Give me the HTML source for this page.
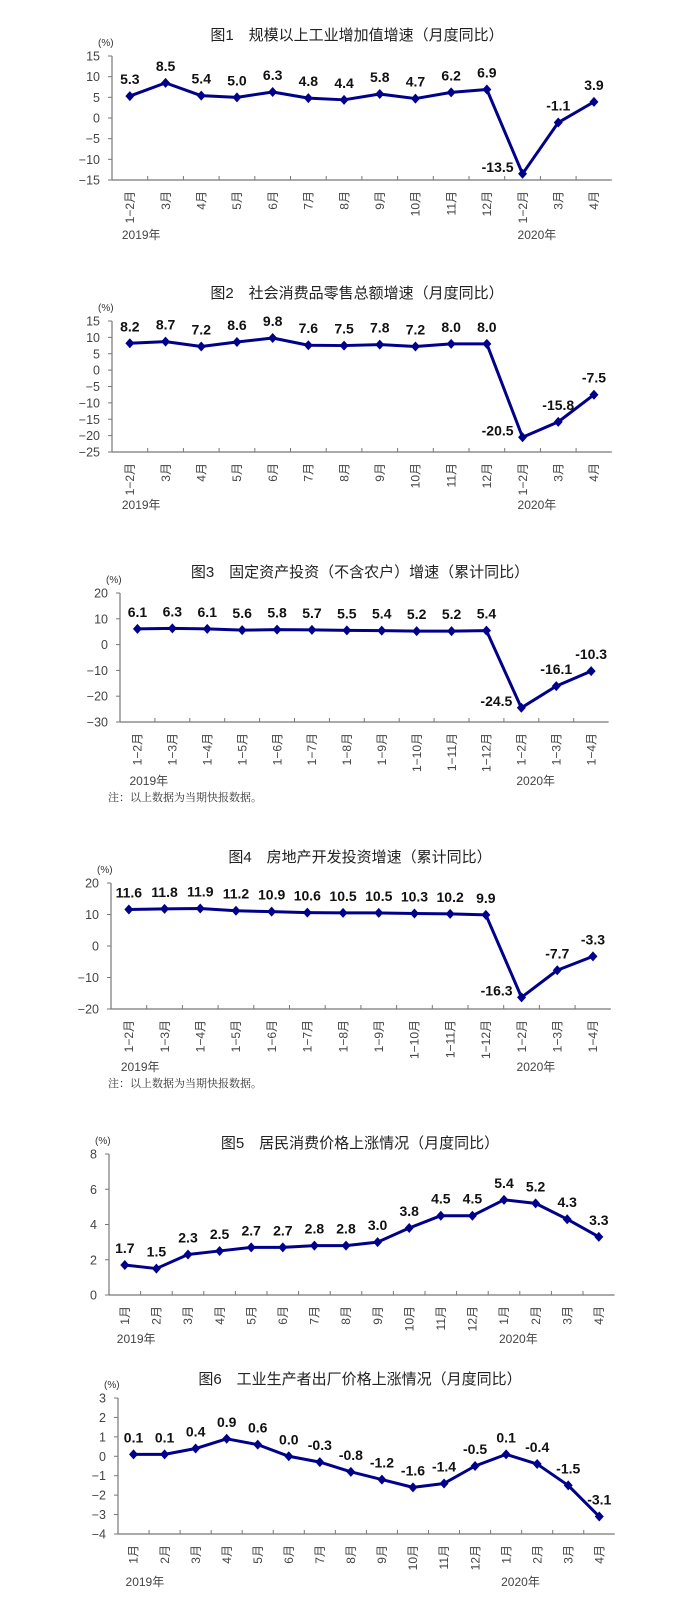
<!DOCTYPE html>
<html><head><meta charset="utf-8">
<style>
html,body{margin:0;padding:0;background:#fff;}
svg{display:block;}
</style></head>
<body>
<svg id="s" width="699" height="1609" xmlns="http://www.w3.org/2000/svg" font-family="Liberation Sans, Noto Sans CJK SC, sans-serif">
<rect width="699" height="1609" fill="#fff"/>
</svg>
<script>
var S=document.getElementById('s');
function el(t,a,txt){var e=document.createElementNS('http://www.w3.org/2000/svg',t);for(var k in a)e.setAttribute(k,a[k]);if(txt!==undefined)e.textContent=txt;S.appendChild(e);return e;}
var m1=["1-2月","3月","4月","5月","6月","7月","8月","9月","10月","11月","12月","1-2月","3月","4月"];
var m3=["1-2月","1-3月","1-4月","1-5月","1-6月","1-7月","1-8月","1-9月","1-10月","1-11月","1-12月","1-2月","1-3月","1-4月"];
var m5=["1月","2月","3月","4月","5月","6月","7月","8月","9月","10月","11月","12月","1月","2月","3月","4月"];
var C=[
{title:"图1　规模以上工业增加值增速（月度同比）",ty:40,tx:357,x0:112,band:35.7,top:56,bot:180,min:-15,max:15,step:5,lab:m1,
 v:[5.3,8.5,5.4,5.0,6.3,4.8,4.4,5.8,4.7,6.2,6.9,-13.5,-1.1,3.9],y19:239,i20:11},
{title:"图2　社会消费品零售总额增速（月度同比）",ty:298,tx:357,x0:112,band:35.7,top:321,bot:452,min:-25,max:15,step:5,lab:m1,
 v:[8.2,8.7,7.2,8.6,9.8,7.6,7.5,7.8,7.2,8.0,8.0,-20.5,-15.8,-7.5],y19:509,i20:11},
{title:"图3　固定资产投资（不含农户）增速（累计同比）",ty:577,tx:360,x0:120,band:34.9,top:593,bot:722,min:-30,max:20,step:10,lab:m3,
 v:[6.1,6.3,6.1,5.6,5.8,5.7,5.5,5.4,5.2,5.2,5.4,-24.5,-16.1,-10.3],y19:785,i20:11,note:801},
{title:"图4　房地产开发投资增速（累计同比）",ty:862,tx:360,x0:111,band:35.7,top:883,bot:1009,min:-20,max:20,step:10,lab:m3,
 v:[11.6,11.8,11.9,11.2,10.9,10.6,10.5,10.5,10.3,10.2,9.9,-16.3,-7.7,-3.3],y19:1071,i20:11,note:1087},
{title:"图5　居民消费价格上涨情况（月度同比）",ty:1148,tx:360,x0:109,band:31.6,top:1154,bot:1295,min:0,max:8,step:2,lab:m5,
 v:[1.7,1.5,2.3,2.5,2.7,2.7,2.8,2.8,3.0,3.8,4.5,4.5,5.4,5.2,4.3,3.3],y19:1343,i20:12},
{title:"图6　工业生产者出厂价格上涨情况（月度同比）",ty:1384,tx:360,x0:118,band:31.05,top:1398,bot:1534,min:-4,max:3,step:1,lab:m5,
 v:[0.1,0.1,0.4,0.9,0.6,0.0,-0.3,-0.8,-1.2,-1.6,-1.4,-0.5,0.1,-0.4,-1.5,-3.1],y19:1586,i20:12}
];
C.forEach(function(c){
 var n=c.v.length, x1=c.x0+n*c.band;
 function Y(v){return c.bot-(v-c.min)/(c.max-c.min)*(c.bot-c.top);}
 function X(i){return c.x0+(i+0.5)*c.band;}
 el('text',{x:c.tx,y:c.ty,'text-anchor':'middle','font-size':15,fill:'#222'},c.title);
 el('text',{x:c.x0-14,y:c.top-10,'font-size':10,fill:'#333'},'(%)');
 el('line',{x1:c.x0,y1:c.top,x2:c.x0,y2:c.bot,stroke:'#777','stroke-width':1.2});
 el('line',{x1:c.x0,y1:c.bot,x2:x1,y2:c.bot,stroke:'#777','stroke-width':1.2});
 for(var v=c.min;v<=c.max+1e-9;v+=c.step){
  var y=Y(v);
  el('line',{x1:c.x0-4,y1:y,x2:c.x0,y2:y,stroke:'#777','stroke-width':1});
  el('text',{x:c.x0-12,y:y+4.5,'text-anchor':'end','font-size':12.5,fill:'#444'},String(v).replace('-','−'));
 }
 for(var i=1;i<n;i++){var xx=c.x0+i*c.band;el('line',{x1:xx,y1:c.bot-4,x2:xx,y2:c.bot,stroke:'#777','stroke-width':1});}
 for(var i=0;i<n;i++){
  var xx=X(i);
  el('text',{transform:'translate('+(xx+4.2)+','+(c.bot+11)+') rotate(-90)','text-anchor':'end','font-size':12,fill:'#444'},c.lab[i].replace('-','−'));
 }
 var pts=c.v.map(function(v,i){return X(i)+','+Y(v);}).join(' ');
 el('polyline',{points:pts,fill:'none',stroke:'#00008B','stroke-width':3,'stroke-linejoin':'round'});
 var mn=Math.min.apply(null,c.v);
 c.v.forEach(function(v,i){
  var x=X(i),y=Y(v);
  el('polygon',{points:(x)+','+(y-5)+' '+(x+4.5)+','+y+' '+(x)+','+(y+5)+' '+(x-4.5)+','+y,fill:'#00008B'});
  var s=v.toFixed(1);
  if(v===mn && i===c.i20 && c.min<-10){
   el('text',{x:x-9,y:y-2,'text-anchor':'end','font-size':14,'font-weight':'bold',fill:'#111'},s);
  } else {
   el('text',{x:x,y:y-12,'text-anchor':'middle','font-size':14,'font-weight':'bold',fill:'#111'},s);
  }
 });
 el('text',{x:c.x0+c.band*0.5-8,y:c.y19,'font-size':12,fill:'#444'},'2019年');
 el('text',{x:X(c.i20)-5,y:c.y19,'font-size':12,fill:'#444'},'2020年');
 if(c.note){el('text',{x:108,y:c.note,'font-size':11,fill:'#333','font-family':'Liberation Serif, Noto Serif CJK SC, serif'},'注：以上数据为当期快报数据。');}
});
</script>
</body></html>
